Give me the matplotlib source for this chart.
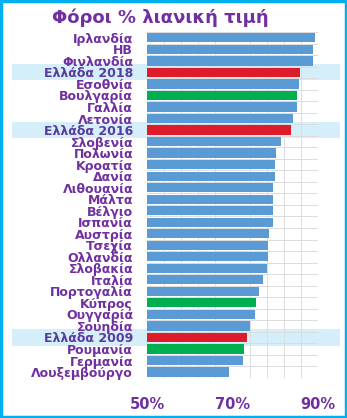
import numpy as np
import matplotlib.pyplot as plt
from matplotlib.patches import Rectangle
from matplotlib.transforms import blended_transform_factory

# Countries, top to bottom
countries = ['Ιρλανδία', 'ΗΒ', 'Φινλανδία', 'Ελλάδα 2018', 'Εσοθνία', 'Βουλγαρία',
             'Γαλλία', 'Λετονία', 'Ελλάδα 2016', 'Σλοβενία', 'Πολωνία', 'Κροατία',
             'Δανία', 'Λιθουανία', 'Μάλτα', 'Βέλγιο', 'Ισπανία', 'Αυστρία', 'Τσεχία',
             'Ολλανδία', 'Σλοβακία', 'Ιταλία', 'Πορτογαλία', 'Κύπρος', 'Ουγγαρία',
             'Σουηδία', 'Ελλάδα 2009', 'Ρουμανία', 'Γερμανία', 'Λουξεμβούργο']
# tax share of retail price (%)
values = [89.3, 88.8, 88.8, 85.8, 85.5, 85.1, 85.1, 84.1, 83.8, 81.3, 80.1, 79.9,
          79.9, 79.4, 79.4, 79.4, 79.4, 78.5, 78.2, 78.2, 78.0, 77.1, 76.1, 75.6,
          75.2, 74.2, 73.5, 72.6, 72.4, 69.3]
greece = ['Ελλάδα 2018', 'Ελλάδα 2016', 'Ελλάδα 2009']
green = ['Βουλγαρία', 'Κύπρος', 'Ρουμανία']
ticks = [50, 70, 90]

purple = '#7030a0'
colors = []
for c in countries:
    if c in greece:
        colors.append('#dc1c2a')
    elif c in green:
        colors.append('#00b050')
    else:
        colors.append('#5b9bd5')

fig = plt.figure(figsize=(3.47, 4.18), dpi=100)
n = len(countries)
ax = fig.add_axes([0.4236, 0.0962, 0.4928, 0.827])
y = np.arange(n)

# highlight bands behind Greek rows
tr = blended_transform_factory(fig.transFigure, ax.transData)
for i, c in enumerate(countries):
    if c in greece:
        ax.add_patch(Rectangle((12 / 347, i - 0.7), 328 / 347, 1.4, transform=tr,
                               facecolor='#d4effa', edgecolor='none',
                               clip_on=False, zorder=0))

ax.set_facecolor('none')
ax.barh(y, values, height=0.8, color=colors, zorder=3)
ax.set_xlim(50, 90)
ax.set_ylim(n - 0.5, -0.5)

ax.set_xticks(np.arange(50, 91, 4), minor=True)
ax.set_yticks(np.arange(-0.5, n, 1), minor=True)
ax.grid(True, which='minor', color='#dcdcdc', linewidth=0.7, zorder=1)
ax.set_xticks(ticks)
ax.set_xticklabels([f'{t}%' for t in ticks])
ax.set_yticks(y)
ax.set_yticklabels(countries)
ax.tick_params(which='both', length=0)
ax.tick_params(axis='x', pad=14, labelsize=10.5, labelcolor=purple)
ax.tick_params(axis='y', pad=10, labelsize=9)
for lab in ax.get_xticklabels():
    lab.set_fontweight('bold')
for lab, c in zip(ax.get_yticklabels(), countries):
    lab.set_fontweight('bold')
    lab.set_color('#5a3a9e' if c in greece else purple)
for s in ax.spines.values():
    s.set_visible(False)

fig.text(0.461, 0.958, 'Φόροι % λιανική τιμή', ha='center', va='center',
         fontsize=13, fontweight='bold', color=purple)

# cyan frame around the chart
fig.patches.append(Rectangle((0.003, 0.003), 0.994, 0.994, transform=fig.transFigure,
                             fill=False, edgecolor='#00b0f0', linewidth=2.5))

fig.savefig('out.png', dpi=100)
